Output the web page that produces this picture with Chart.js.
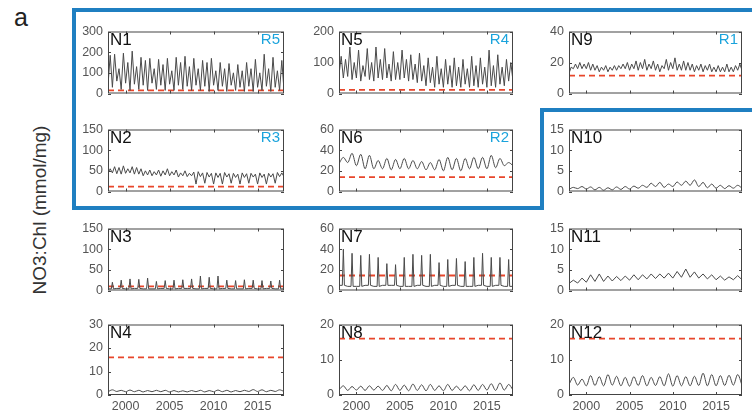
<!DOCTYPE html>
<html>
<head>
<meta charset="utf-8">
<script src="https://cdn.jsdelivr.net/npm/chart.js@4.4.1/dist/chart.umd.min.js"></script>
<style>
  html, body { margin: 0; padding: 0; background: #fff; }
  #wrap { position: relative; width: 752px; height: 416px; overflow: hidden; font-family: "Liberation Sans", Arial, sans-serif; }
  canvas { position: absolute; }
  .nlab { position: absolute; font-size: 17px; color: #111; }
  .rlab { position: absolute; font-size: 15px; color: #1aa3dc; text-align: right; }
  #a { position: absolute; left: 14px; top: 3px; font-size: 25px; color: #222; }
  #ytitle { position: absolute; left: 40px; top: 210px; font-size: 19px; color: #333; white-space: nowrap;
            transform: translate(-50%, -50%) rotate(-90deg); }
  svg { position: absolute; left: 0; top: 0; }
</style>
</head>
<body>
<div id="wrap">
  <div id="a">a</div>
  <div id="ytitle">NO3:Chl (mmol/mg)</div>
</div>
<script>
// panel names, region tags and red threshold lines
const panelNames = ['N1', 'N5', 'N9', 'N2', 'N6', 'N10', 'N3', 'N7', 'N11', 'N4', 'N8', 'N12'];
const regionTags = ['R5', 'R4', 'R1', 'R3', 'R2', '', '', '', '', '', '', ''];
const thresholds = [15, 12, 11.5, 12, 14, null, 10, 14.5, null, 16, 16, 16];
const yMax = [300, 200, 40, 150, 60, 15, 150, 60, 15, 30, 20, 20];
const yStep = [100, 100, 20, 50, 20, 5, 50, 20, 5, 10, 10, 10];
const xTicks = [2000, 2005, 2010, 2015];
const startYear = 1998;
const endYear = 2018;
const cyclesPerYear = [2, 2, 2, 2, 1, 1, 1, 1, 1, 1, 1, 1];

// seasonal peaks and troughs
const peaks = [
  [185,190,120,195,150,205,130,175,160,170,120,165,140,170,110,175,150,180,130,170,120,160,150,170,110,150,120,145,100,140,110,150,120,165,100,190,120,175,110,160],
  [120,110,150,100,140,90,145,100,150,110,145,95,135,100,140,110,125,95,130,90,115,85,120,80,110,90,115,85,110,80,120,90,115,85,140,90,125,85,110,100],
  [17,19,20,19,20,19,18,17,18,17,18,18,19,20,19,21,20,22,19,21,19,18,22,20,23,19,21,20,19,18,19,18,19,17,18,17,19,17,18,19],
  [55,60,58,62,55,60,58,55,50,52,48,52,50,55,48,52,45,50,44,47,48,45,46,44,45,44,46,43,44,42,45,43,44,42,45,42,44,43,46,45],
  [33,37,36,35,30,32,31,32,30,29,28,31,33,32,32,33,33,35,32,28],
  [1.0,1.2,1.1,1.0,0.9,1.1,1.2,1.3,1.5,2.0,2.2,1.8,2.3,2.5,2.8,2.2,1.8,1.5,1.4,1.5],
  [20,25,28,27,30,22,24,25,26,28,35,32,35,25,24,26,25,24,23,25],
  [40,36,34,35,32,26,25,32,35,34,35,27,30,31,28,32,36,32,32,30],
  [2.5,3.0,3.8,4.0,3.5,3.4,3.5,3.8,3.8,4.0,4.0,4.2,4.6,5.2,4.5,4.0,3.8,3.5,3.3,3.6],
  [2.2,2.0,2.1,2.0,1.9,2.0,2.0,1.9,1.8,1.9,2.0,1.9,2.1,2.0,1.9,2.0,2.3,2.2,2.0,2.2],
  [2.6,2.4,2.5,2.6,2.5,2.7,3.0,2.8,3.1,2.9,3.0,2.6,3.0,2.5,2.6,2.9,3.0,3.2,3.4,3.0],
  [5.0,4.5,5.5,5.2,5.8,5.3,5.0,5.2,5.5,5.0,5.2,6.0,5.5,5.2,5.3,6.2,5.8,5.5,5.6,5.8]
];
const troughs = [
  [40,30,60,20,50,15,45,20,40,15,50,20,40,15,45,15,40,20,35,15,40,15,35,10,40,15,35,10,40,15,30,10,35,10,30,15,35,10,30,15],
  [60,50,55,45,50,40,55,45,40,50,45,50,40,45,45,50,40,45,35,40,25,35,20,30,20,30,20,25,20,30,20,25,20,30,20,25,20,30,25,40],
  [13,16,16,16,16,15,15,14,15,14,15,15,16,16,15,16,15,16,15,16,15,14,16,15,16,15,15,15,15,14,15,14,15,14,14,14,14,14,14,15],
  [45,45,43,42,44,45,42,42,38,40,38,40,37,40,38,40,35,38,36,38,18,36,20,35,18,34,18,35,20,34,18,34,20,35,18,34,18,35,20,36],
  [27,28,25,22,22,22,21,22,22,22,21,21,20,21,20,22,22,22,23,25],
  [0.5,0.7,0.6,0.4,0.3,0.4,0.5,0.6,0.8,1.0,1.2,1.0,1.2,1.5,1.5,1.2,0.9,0.8,0.7,0.8],
  [4,5,4,5,4,4,5,4,5,5,4,5,4,5,4,4,5,4,5,4],
  [5,4,4,5,4,5,5,4,4,5,4,5,4,5,4,4,5,4,5,4],
  [1.7,1.8,2.0,2.2,2.2,2.3,2.4,2.5,2.6,2.8,2.9,3.0,3.0,3.2,3.2,3.0,2.8,2.6,2.5,2.6],
  [1.4,1.5,1.4,1.4,1.3,1.4,1.4,1.3,1.3,1.3,1.4,1.3,1.4,1.4,1.3,1.4,1.5,1.5,1.4,1.5],
  [1.5,1.3,1.4,1.3,1.4,1.3,1.2,1.3,1.2,1.3,1.2,1.3,1.2,1.3,1.3,1.2,1.3,1.4,1.3,1.4],
  [3.0,2.8,2.6,2.7,2.6,2.8,2.6,2.5,2.7,2.6,2.7,2.6,2.5,2.6,2.6,2.7,2.6,2.6,2.7,2.8]
];
const smooth = [false, false, false, false, true, true, false, false, false, true, true, true];
// narrow bloom spikes over a flat winter floor
const spiky = [false, false, false, false, false, false, true, true, false, false, false, false];

// layout
const colLeft = [108, 339, 569];
const colWidth = [176, 174, 173];
const rowTop = [25, 123, 222, 318];
const plotH = 77;
const padL = 44, padT = 6, padR = 6;

const wrap = document.getElementById('wrap');

// MATLAB-like box with inward ticks
const boxPlugin = {
  id: 'box',
  afterDraw(chart) {
    const { ctx, chartArea: a, scales } = chart;
    ctx.save();
    ctx.strokeStyle = '#444';
    ctx.lineWidth = 1;
    ctx.strokeRect(a.left + 0.5, a.top + 0.5, a.right - a.left - 1, a.bottom - a.top - 1);
    ctx.beginPath();
    scales.y.ticks.forEach(t => {
      const y = Math.round(scales.y.getPixelForValue(t.value)) + 0.5;
      ctx.moveTo(a.left, y); ctx.lineTo(a.left + 3, y);
      ctx.moveTo(a.right, y); ctx.lineTo(a.right - 3, y);
    });
    scales.x.ticks.forEach(t => {
      const x = Math.round(scales.x.getPixelForValue(t.value)) + 0.5;
      ctx.moveTo(x, a.top); ctx.lineTo(x, a.top + 3);
      ctx.moveTo(x, a.bottom); ctx.lineTo(x, a.bottom - 3);
    });
    ctx.stroke();
    ctx.restore();
  }
};

panelNames.forEach((name, i) => {
  const row = Math.floor(i / 3), col = i % 3;
  const bottomRow = row === 3;
  const padB = bottomRow ? 22 : 4;
  const cv = document.createElement('canvas');
  const w = padL + colWidth[col] + padR;
  const h = padT + plotH + padB;
  cv.width = w; cv.height = h;
  cv.style.left = (colLeft[col] - padL) + 'px';
  cv.style.top = (rowTop[row] - padT) + 'px';
  cv.style.width = w + 'px'; cv.style.height = h + 'px';
  wrap.appendChild(cv);

  const c = cyclesPerYear[i];
  const pts = [];
  peaks[i].forEach((p, k) => {
    pts.push({ x: startYear + k / c, y: troughs[i][k] });
    if (spiky[i]) pts.push({ x: startYear + (k + 0.38) / c, y: troughs[i][k] });
    pts.push({ x: startYear + (k + 0.5) / c, y: p });
    if (spiky[i]) pts.push({ x: startYear + (k + 0.62) / c, y: troughs[i][k] });
  });
  pts.push({ x: endYear, y: troughs[i][troughs[i].length - 1] });

  const datasets = [{
    data: pts,
    borderColor: '#4a4a4a',
    borderWidth: 1,
    pointRadius: 0,
    tension: smooth[i] ? 0.4 : 0,
    cubicInterpolationMode: smooth[i] ? 'monotone' : 'default'
  }];
  if (thresholds[i] !== null) {
    datasets.push({
      data: [{ x: startYear, y: thresholds[i] }, { x: endYear, y: thresholds[i] }],
      borderColor: '#e8462b',
      borderWidth: 1.8,
      borderDash: [6, 4],
      pointRadius: 0
    });
  }

  new Chart(cv, {
    type: 'line',
    data: { datasets },
    options: {
      responsive: false,
      animation: false,
      layout: { padding: { left: 0, top: padT, right: padR, bottom: 0 } },
      plugins: { legend: { display: false }, tooltip: { enabled: false } },
      scales: {
        x: {
          type: 'linear', min: startYear, max: endYear,
          afterBuildTicks: s => { s.ticks = xTicks.map(v => ({ value: v })); },
          afterFit: s => { s.height = padB; },
          grid: { display: false, drawTicks: false },
          border: { display: false },
          ticks: {
            display: bottomRow, padding: 4, color: '#555', maxRotation: 0,
            font: { family: 'Liberation Sans', size: 12.5 },
            callback: v => String(v)
          }
        },
        y: {
          min: 0, max: yMax[i],
          afterFit: s => { s.width = padL; },
          grid: { display: false, drawTicks: false },
          border: { display: false },
          ticks: {
            stepSize: yStep[i], padding: 5, color: '#555',
            font: { family: 'Liberation Sans', size: 12.5 }
          }
        }
      }
    },
    plugins: [boxPlugin]
  });

  const nl = document.createElement('div');
  nl.className = 'nlab';
  nl.textContent = name;
  nl.style.left = (colLeft[col] + 2) + 'px';
  nl.style.top = (rowTop[row] + 5) + 'px';
  wrap.appendChild(nl);
  if (regionTags[i]) {
    const rl = document.createElement('div');
    rl.className = 'rlab';
    rl.textContent = regionTags[i];
    rl.style.left = (colLeft[col] + colWidth[col] - 40) + 'px';
    rl.style.width = '36px';
    rl.style.top = (rowTop[row] + 5) + 'px';
    wrap.appendChild(rl);
  }
});

// blue outline around the R-group panels
const svgNS = 'http://www.w3.org/2000/svg';
const svg = document.createElementNS(svgNS, 'svg');
svg.setAttribute('width', 752); svg.setAttribute('height', 416);
const path = document.createElementNS(svgNS, 'path');
path.setAttribute('d', 'M 760 10 L 74 10 L 74 208 L 542 208 L 542 110 L 760 110');
path.setAttribute('fill', 'none');
path.setAttribute('stroke', '#1f7fc1');
path.setAttribute('stroke-width', '4');
svg.appendChild(path);
wrap.appendChild(svg);
</script>
</body>
</html>
